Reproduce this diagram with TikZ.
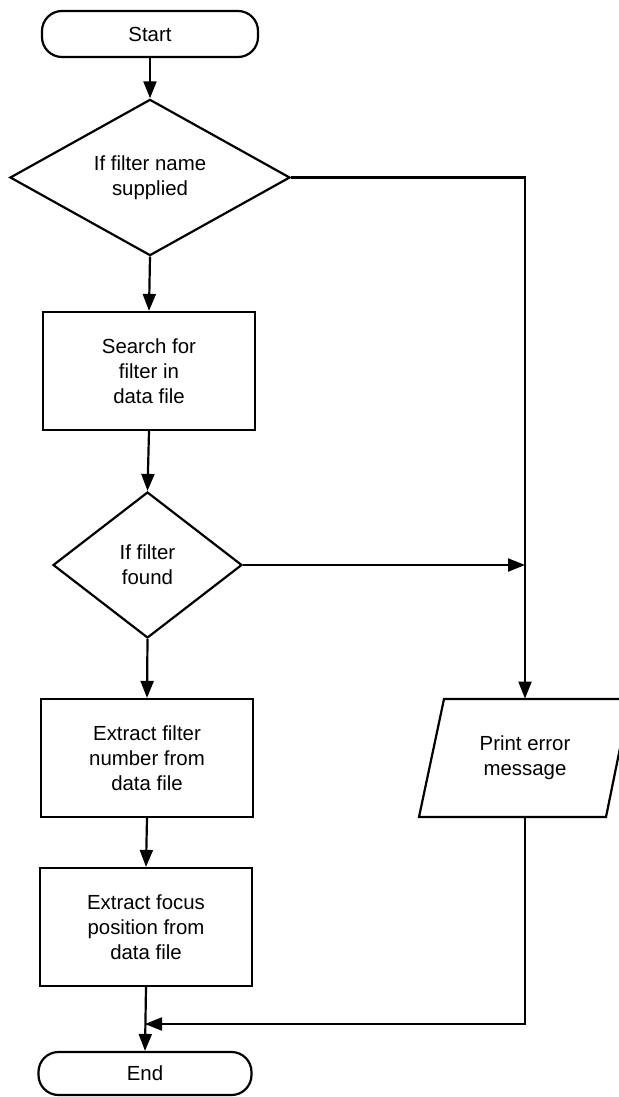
\documentclass[tikz,border=0pt]{standalone}
\usepackage{fontspec}
\setmainfont{Liberation Sans}
\usetikzlibrary{shapes.geometric,arrows.meta,calc}
\begin{document}
\begin{tikzpicture}[x=0.5pt,y=-0.5pt,
  font=\fontsize{10.2pt}{12.5pt}\selectfont,
  line/.style={line width=1.1pt},
  flow/.style={line, -{Triangle[length=8.5pt,width=6.5pt]}},
  terminal/.style={draw, line width=1.1pt, rectangle, rounded corners=10pt, inner sep=0pt},
  process/.style={draw, line width=1.1pt, rectangle, minimum width=106pt, minimum height=59pt, inner sep=0pt, align=center},
  decision/.style={draw, line width=1.1pt, diamond, inner sep=0pt, align=center},
  iobox/.style={minimum height=59pt, minimum width=0pt, inner sep=0pt, align=center}]

\fill[white] (0,0) rectangle (619,1097);
\clip (0,0) rectangle (619,1097);

% main column
\node[terminal, minimum width=108pt, minimum height=23pt] (start) at (150,34) {Start};
\node[decision, minimum width=140pt, minimum height=70.5pt] (d1) at (150,177.5) {If filter name\\supplied};
\node[process] (r1) at (149,371) {Search for\\filter in\\data file};
\node[decision, minimum width=94.5pt, minimum height=73pt] (d2) at (147.5,565) {If filter\\found};
\node[process] (r2) at (147,758) {Extract filter\\number from\\data file};
\node[process] (r3) at (146,927) {Extract focus\\position from\\data file};
\node[terminal, minimum width=106.5pt, minimum height=21.5pt] (end) at (145,1073.5) {End};

% error branch: input/output parallelogram
\node[iobox] (print) at (525,758) {Print error\\message};
\draw[line] ($(print.center)+(-81,-59)$) -- ($(print.center)+(105,-59)$)
  -- ($(print.center)+(81,59)$) -- ($(print.center)+(-106,59)$) -- cycle;

% routing points
\coordinate (rt) at (print.north |- d1.east);
\coordinate (jn) at (print.north |- d2.east);
\coordinate (bk) at (525,1024);
\coordinate (mg) at (end.north |- bk);

% connectors
\draw[flow] (start) -- (d1);
\draw[flow] (d1.south) -- (r1.north);
\draw[flow] (r1.south) -- (d2.north);
\draw[flow] (d2.south) -- (r2.north);
\draw[flow] (r2.south) -- (r3.north);
\draw[flow] (r3.south) -- (end.north);
\draw[flow] (d1.east) -- (rt) -- (print.north);
\draw[flow] (d2.east) -- (jn);
\draw[flow] (print.south) -- (bk) -- (mg);
\end{tikzpicture}
\end{document}
